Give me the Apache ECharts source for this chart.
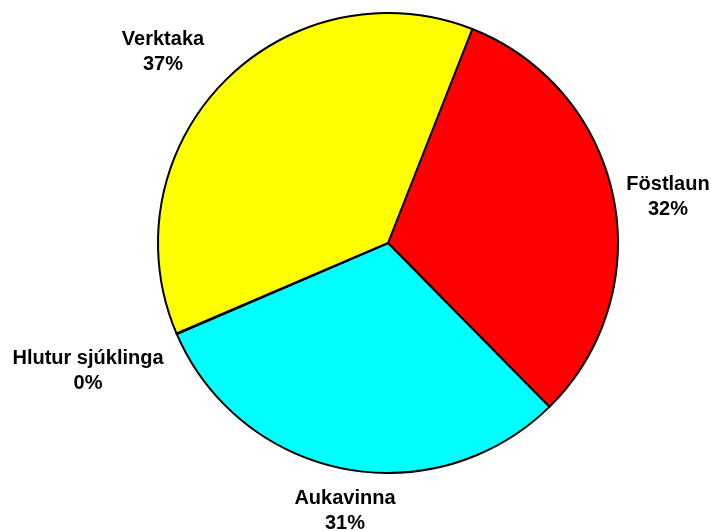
<!DOCTYPE html>
<html>
<head>
<meta charset="utf-8">
<script src="https://cdn.jsdelivr.net/npm/echarts@6/dist/echarts.min.js"></script>
<style>
    html, body { margin: 0; padding: 0; background: #fff; }
    #chart { width: 711px; height: 531px; }
</style>
</head>
<body>
<div id="chart"></div>
<script>
// slices, clockwise from the red one
var categories = ["Föstlaun", "Aukavinna", "Hlutur sjúklinga", "Verktaka"];
var values = [31.65, 30.9, 0.05, 37.4];
var colors = ["#FF0000", "#00FFFF", "#000000", "#FFFF00"];
// where each label block sits (centre of the two lines)
var labelPos = [[668, 197], [345, 511], [88, 371], [163, 52]];

var pieData = categories.map(function (name, i) {
    return { name: name, value: values[i], itemStyle: { color: colors[i] } };
});

var pie_option = {
    animation: false,
    backgroundColor: "#ffffff",
    series: [
        {
            type: "pie",
            center: [388, 243],
            radius: 230,
            startAngle: 68.5,
            clockwise: true,
            avoidLabelOverlap: false,
            data: pieData,
            itemStyle: {
                borderColor: "#000000",
                borderWidth: 2
            },
            label: {
                show: true,
                position: "outside",
                fontFamily: "Liberation Sans, Arial, sans-serif",
                fontWeight: "bold",
                fontSize: 20,
                lineHeight: 25,
                color: "#000000",
                formatter: function (p) {
                    return p.name + "\n" + Math.round(p.percent) + "%";
                }
            },
            labelLine: { show: false },
            labelLayout: function (params) {
                var p = labelPos[params.dataIndex];
                return { x: p[0], y: p[1], align: "center", verticalAlign: "middle" };
            }
        }
    ]
};

var chart = echarts.init(document.getElementById("chart"));
chart.setOption(pie_option);
</script>
</body>
</html>
